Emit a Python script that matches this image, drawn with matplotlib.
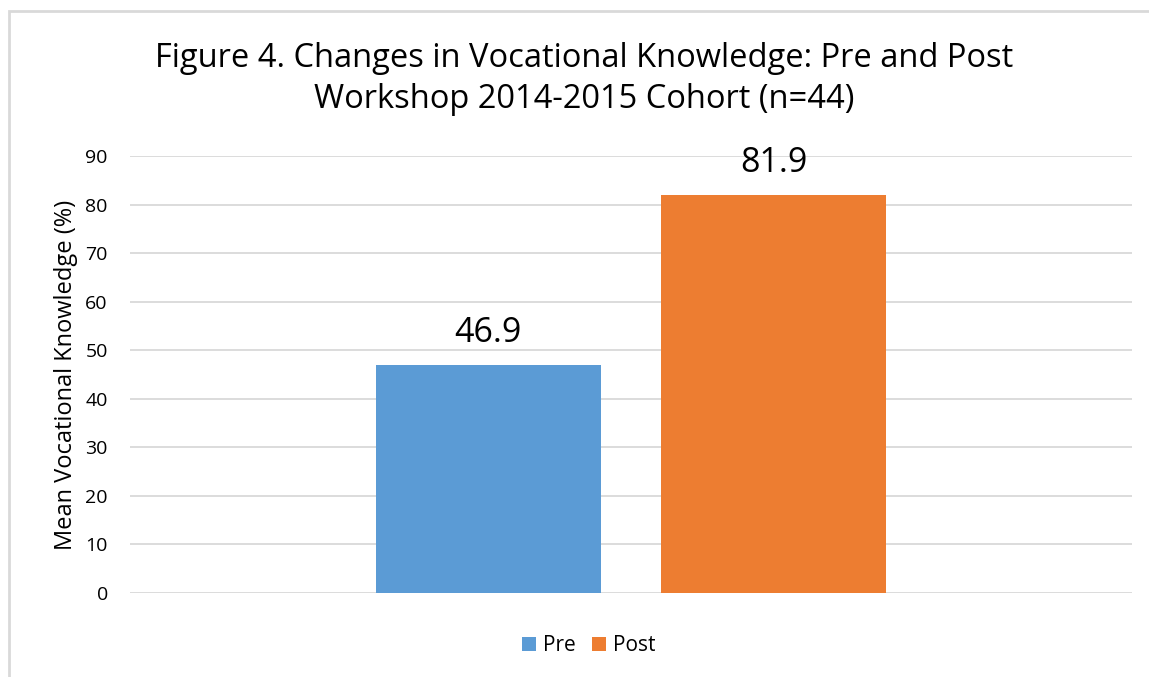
import matplotlib.pyplot as plt
from matplotlib.patches import Rectangle

# data
series = ['Pre', 'Post']
values = [46.9, 81.9]
colors = ['#5B9BD5', '#ED7D31']
offsets = [-0.285, 0.285]

plt.rcParams['font.family'] = ['Open Sans', 'DejaVu Sans']

fig = plt.figure(figsize=(11.49, 6.77), dpi=100)
ax = fig.add_axes([130 / 1149, 1 - 593 / 677, 1002 / 1149, 437 / 677])

# chart border (left and top visible, rest cut off)
fig.patches.append(Rectangle((8.5 / 1149, -0.1), 1.2, 1 - 10.5 / 677 + 0.1,
                             transform=fig.transFigure, fill=False,
                             edgecolor='#d9d9d9', linewidth=2))

for name, v, c, off in zip(series, values, colors, offsets):
    ax.bar(off, v, width=0.449, color=c, label=name, zorder=3)
    ax.text(off, v + 3.2, f'{v:.1f}', ha='center', va='bottom', fontsize=24.5)

ax.set_xlim(-1, 1)
ax.set_ylim(0, 90)
ax.set_yticks(range(0, 91, 10))
ax.set_xticks([])
ax.tick_params(axis='y', length=0, labelsize=14, pad=16)
ax.grid(axis='y', color='#d9d9d9', linewidth=1.3, zorder=0)
for s in ax.spines.values():
    s.set_visible(False)

ax.set_ylabel('Mean Vocational Knowledge (%)', fontsize=17, labelpad=5)

fig.text(584 / 1149, 1 - 79 / 677,
         'Figure 4. Changes in Vocational Knowledge: Pre and Post\nWorkshop 2014-2015 Cohort (n=44)',
         ha='center', va='center', fontsize=23.5, linespacing=1.3)

ax.legend(loc='center', bbox_to_anchor=(0.458, -0.12), ncol=2, frameon=False,
          fontsize=15, handlelength=0.65, handleheight=0.65, handletextpad=0.35,
          columnspacing=0.8)

fig.savefig('out.png', dpi=100)
